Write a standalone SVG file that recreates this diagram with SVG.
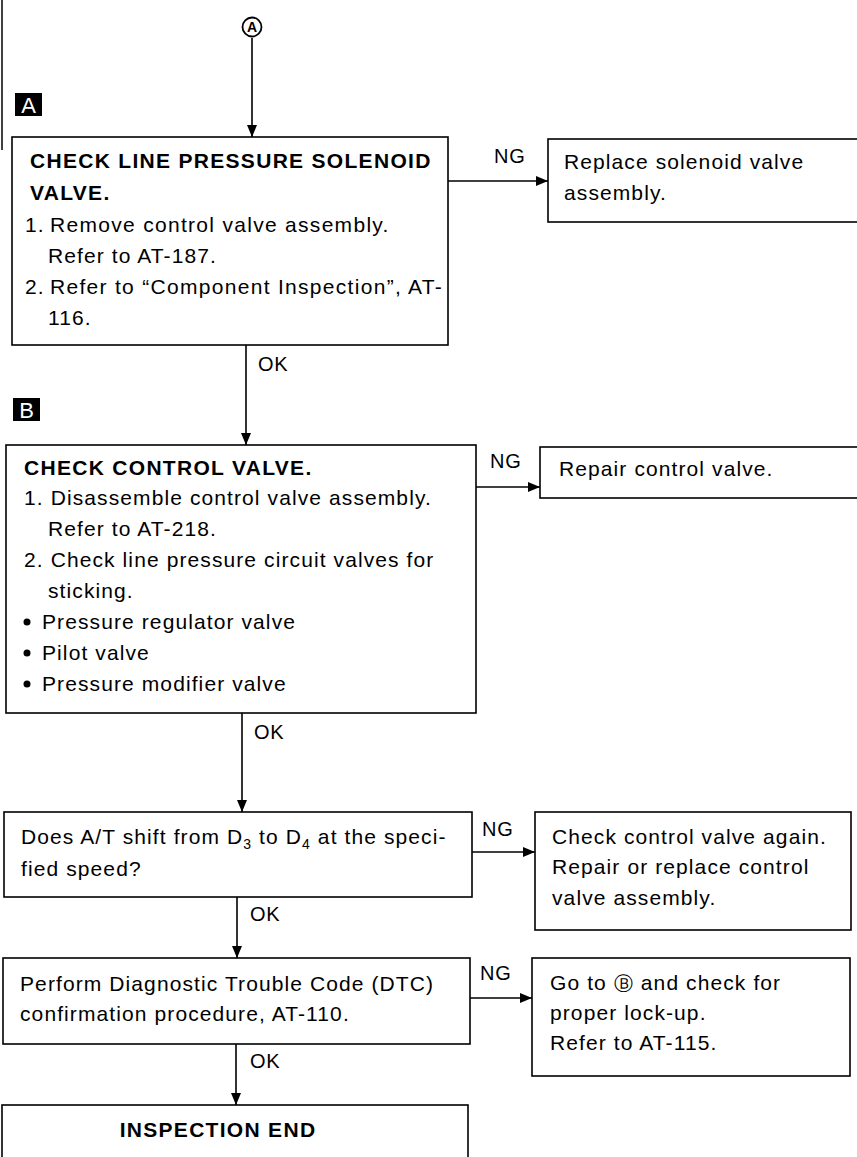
<svg xmlns="http://www.w3.org/2000/svg" width="857" height="1157" viewBox="0 0 857 1157">
<style>
.box{fill:#fff;stroke:#000;stroke-width:1.6}
.t{font-family:"Liberation Sans",Arial,sans-serif;font-size:21px;letter-spacing:1.1px;fill:#000}
.b{font-weight:bold;letter-spacing:1.3px}
.lbl{font-family:"Liberation Sans",Arial,sans-serif;font-size:20px;letter-spacing:0.8px;fill:#000}
.con{stroke:#000;stroke-width:1.6;fill:none}
.tag{font-family:"Liberation Sans",Arial,sans-serif;font-size:22px;fill:#fff}
</style>
<defs>
<marker id="ah" markerWidth="12" markerHeight="10" refX="12" refY="5" orient="auto" markerUnits="userSpaceOnUse">
<path d="M0,0 L12,5 L0,10 Z" fill="#000"/>
</marker>
</defs>
<rect width="857" height="1157" fill="#fff"/>
<line x1="2" y1="0" x2="2" y2="150" stroke="#000" stroke-width="1.5"/>

<g id="start">
<circle cx="252" cy="27" r="9.5" fill="none" stroke="#000" stroke-width="1.8"/>
<text x="252" y="32" text-anchor="middle" font-family="Liberation Sans,Arial,sans-serif" font-size="14" font-weight="bold">A</text>
</g>

<g id="tagA">
<rect x="15" y="93" width="27" height="23" fill="#000"/>
<text class="tag" x="28.5" y="113" text-anchor="middle">A</text>
</g>
<g id="tagB">
<rect x="13" y="398" width="27" height="23" fill="#000"/>
<text class="tag" x="26.5" y="418" text-anchor="middle">B</text>
</g>

<g id="connectors">
<line class="con" x1="252" y1="38" x2="252" y2="137" marker-end="url(#ah)"/>
<line class="con" x1="448" y1="181" x2="548" y2="181" marker-end="url(#ah)"/>
<text class="lbl" x="494" y="163">NG</text>
<line class="con" x1="246" y1="345" x2="246" y2="445" marker-end="url(#ah)"/>
<text class="lbl" x="258" y="371">OK</text>
<line class="con" x1="476" y1="487" x2="540" y2="487" marker-end="url(#ah)"/>
<text class="lbl" x="490" y="468">NG</text>
<line class="con" x1="242" y1="713" x2="242" y2="812" marker-end="url(#ah)"/>
<text class="lbl" x="254" y="739">OK</text>
<line class="con" x1="472" y1="852" x2="535" y2="852" marker-end="url(#ah)"/>
<text class="lbl" x="482" y="836">NG</text>
<line class="con" x1="237" y1="897" x2="237" y2="958" marker-end="url(#ah)"/>
<text class="lbl" x="250" y="921">OK</text>
<line class="con" x1="470" y1="998" x2="532" y2="998" marker-end="url(#ah)"/>
<text class="lbl" x="480" y="980">NG</text>
<line class="con" x1="236" y1="1044" x2="236" y2="1105" marker-end="url(#ah)"/>
<text class="lbl" x="250" y="1068">OK</text>
</g>

<g id="n1">
<rect class="box" x="12" y="137" width="436" height="208"/>
<text class="t b" x="30" y="168">CHECK LINE PRESSURE SOLENOID</text>
<text class="t b" x="30" y="200">VALVE.</text>
<text class="t" x="25" y="232">1.<tspan x="50" style="letter-spacing:1.3px">Remove control valve assembly.</tspan></text>
<text class="t" x="48" y="263">Refer to AT-187.</text>
<text class="t" x="25" y="294">2.<tspan x="50" style="letter-spacing:1.3px">Refer to “Component Inspection”, AT-</tspan></text>
<text class="t" x="48" y="325">116.</text>
</g>

<g id="n1ng">
<rect class="box" x="548" y="139" width="312" height="83"/>
<text class="t" x="564" y="169">Replace solenoid valve</text>
<text class="t" x="564" y="200">assembly.</text>
</g>

<g id="n2">
<rect class="box" x="6" y="445" width="470" height="268"/>
<text class="t b" x="24" y="475">CHECK CONTROL VALVE.</text>
<text class="t" x="24" y="505">1. Disassemble control valve assembly.</text>
<text class="t" x="48" y="536">Refer to AT-218.</text>
<text class="t" x="24" y="567">2. Check line pressure circuit valves for</text>
<text class="t" x="48" y="598">sticking.</text>
<circle cx="27" cy="622" r="3.5" fill="#000"/>
<text class="t" x="42" y="629">Pressure regulator valve</text>
<circle cx="27" cy="653" r="3.5" fill="#000"/>
<text class="t" x="42" y="660">Pilot valve</text>
<circle cx="27" cy="684" r="3.5" fill="#000"/>
<text class="t" x="42" y="691">Pressure modifier valve</text>
</g>

<g id="n2ng">
<rect class="box" x="540" y="447" width="320" height="51"/>
<text class="t" x="559" y="476">Repair control valve.</text>
</g>

<g id="n3">
<rect class="box" x="4" y="812" width="468" height="85"/>
<text class="t" x="21" y="844">Does A/T shift from D<tspan font-size="14" dy="5">3</tspan><tspan dy="-5"> to D</tspan><tspan font-size="14" dy="5">4</tspan><tspan dy="-5"> at the speci-</tspan></text>
<text class="t" x="21" y="876">fied speed?</text>
</g>

<g id="n3ng">
<rect class="box" x="535" y="812" width="316" height="118"/>
<text class="t" x="552" y="844">Check control valve again.</text>
<text class="t" x="552" y="874">Repair or replace control</text>
<text class="t" x="552" y="905">valve assembly.</text>
</g>

<g id="n4">
<rect class="box" x="3" y="958" width="467" height="86"/>
<text class="t" x="20" y="991">Perform Diagnostic Trouble Code (DTC)</text>
<text class="t" x="20" y="1021">confirmation procedure, AT-110.</text>
</g>

<g id="n4ng">
<rect class="box" x="532" y="958" width="318" height="118"/>
<text class="t" x="550" y="990">Go to <tspan font-family="DejaVu Sans,sans-serif" font-size="19">Ⓑ</tspan> and check for</text>
<text class="t" x="550" y="1020">proper lock-up.</text>
<text class="t" x="550" y="1050">Refer to AT-115.</text>
</g>

<g id="n5">
<rect class="box" x="2" y="1105" width="466" height="60"/>
<text class="t b" x="218" y="1137" text-anchor="middle">INSPECTION END</text>
</g>
</svg>
